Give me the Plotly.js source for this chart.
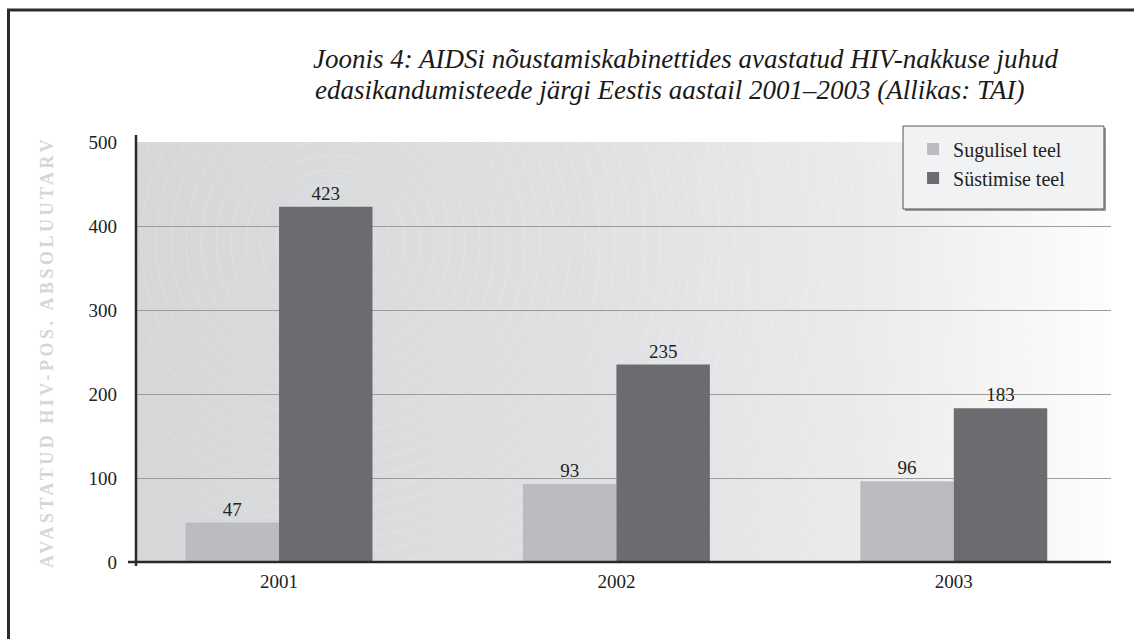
<!DOCTYPE html>
<html>
<head>
<meta charset="utf-8">
<script src="https://cdn.plot.ly/plotly-3.0.1.min.js"></script>
<style>html,body{margin:0;padding:0;background:#fff;}#chart{width:1134px;height:639px;}</style>
</head>
<body>
<div id="chart"></div>
<script>
// ---- data ----
const years = ["2001", "2002", "2003"];
const sugulisel = [47, 93, 96];     // Sugulisel teel
const systimise = [423, 235, 183];  // Süstimise teel
const yTicks = [0, 100, 200, 300, 400, 500];
const seriesNames = ["Sugulisel teel", "Süstimise teel"];
const titleLines = [
  "Joonis 4: AIDSi nõustamiskabinettides avastatud HIV-nakkuse juhud",
  "edasikandumisteede järgi Eestis aastail 2001–2003 (Allikas: TAI)"
];
const yTitle = "AVASTATUD HIV-POS. ABSOLUUTARV";

const SERIF = "Liberation Serif";

// background (radial rings + gradient) as an SVG data URI
function bgImage() {
  const W = 975, H = 420, cx = 197, cy = 100;
  let circles = "";
  for (let r = 12; r < 1000; r += 15) {
    circles += `<circle cx="${cx}" cy="${cy}" r="${r}" fill="none" stroke="#ffffff" stroke-opacity="0.22" stroke-width="0.8"/>`;
  }
  const svg = `<svg xmlns="http://www.w3.org/2000/svg" width="${W}" height="${H}" viewBox="0 0 ${W} ${H}">
<defs>
<linearGradient id="g" x1="0" y1="0" x2="1" y2="0">
<stop offset="0" stop-color="#d6d7d9"/>
<stop offset="0.45" stop-color="#dfe0e2"/>
<stop offset="0.75" stop-color="#ebebec"/>
<stop offset="1" stop-color="#fdfdfd"/>
</linearGradient>
</defs>
<rect width="${W}" height="${H}" fill="url(#g)"/>
${circles}
</svg>`;
  return "data:image/svg+xml;base64," + btoa(unescape(encodeURIComponent(svg)));
}

const traces = [
  {
    type: "bar", name: seriesNames[0], x: years, y: sugulisel,
    marker: {color: "#bbbcc0", line: {width: 0}},
    text: sugulisel.map(String), textposition: "outside",
    textfont: {family: SERIF, size: 19, color: "#222"},
    cliponaxis: false, hoverinfo: "x+y+name"
  },
  {
    type: "bar", name: seriesNames[1], x: years, y: systimise,
    marker: {color: "#6b6c70", line: {width: 0}},
    text: systimise.map(String), textposition: "outside",
    textfont: {family: SERIF, size: 19, color: "#222"},
    cliponaxis: false, hoverinfo: "x+y+name"
  }
];

const px = 1 / 975, py = 1 / 420;

const layout = {
  width: 1134, height: 639,
  margin: {l: 136, r: 23, t: 142, b: 77},
  paper_bgcolor: "#ffffff",
  plot_bgcolor: "rgba(0,0,0,0)",
  font: {family: SERIF, color: "#222"},
  showlegend: true,
  barmode: "group",
  bargap: 0.446,
  bargroupgap: 0,
  title: {
    text: "<i>" + titleLines[0] + "</i>",
    font: {family: SERIF, size: 27, color: "#1a1a1a"},
    x: 313 / 1134, xref: "container", xanchor: "left",
    y: 1 - 59 / 639, yref: "container", yanchor: "middle"
  },
  annotations: [{
    text: "<i>" + titleLines[1] + "</i>",
    font: {family: SERIF, size: 27, color: "#1a1a1a"},
    xref: "paper", yref: "paper",
    x: (313 - 136) * px, y: 1 + (142 - 90) * py,
    xanchor: "left", yanchor: "middle", showarrow: false
  }],
  xaxis: {
    type: "category",
    range: [-0.424, 2.466],
    showgrid: false, zeroline: false, showline: false,
    ticks: "", tickfont: {family: SERIF, size: 19, color: "#222"},
    ticklabelstandoff: 6,
    fixedrange: true
  },
  yaxis: {
    range: [0, 500],
    tickvals: yTicks,
    showgrid: true, gridcolor: "#9c9c9c", gridwidth: 1.3,
    zeroline: false, showline: false, ticks: "",
    tickfont: {family: SERIF, size: 19, color: "#222"},
    ticklabelstandoff: 18,
    title: {
      text: '<b><span style="letter-spacing:3.5px">' + yTitle + '</span></b>',
      font: {family: SERIF, size: 18, color: "#d6d6d6"},
      standoff: 30
    },
    fixedrange: true
  },
  legend: {
    x: 0.797, y: 1.03, xanchor: "left", yanchor: "top",
    bgcolor: "rgba(0,0,0,0)", borderwidth: 0,
    font: {family: SERIF, size: 20, color: "#222"},
    itemclick: false, itemdoubleclick: false
  },
  images: [{
    source: bgImage(), xref: "paper", yref: "paper",
    x: 0, y: 1, sizex: 1, sizey: 1, sizing: "stretch",
    xanchor: "left", yanchor: "top", layer: "below"
  }],
  shapes: [
    // outer frame (top and left edges)
    {type: "line", xref: "paper", yref: "paper",
     x0: -129 * px, x1: 1000 * px, y0: 1 + 132 * py, y1: 1 + 132 * py,
     line: {color: "#2b2b2b", width: 3}},
    {type: "line", xref: "paper", yref: "paper",
     x0: -127.5 * px, x1: -127.5 * px, y0: 1 + 132 * py, y1: -200 * py,
     line: {color: "#2b2b2b", width: 3}},
    // axis lines
    {type: "line", xref: "paper", yref: "paper",
     x0: 0, x1: 0, y0: -4 * py, y1: 1 + 7 * py,
     line: {color: "#2a2a2a", width: 2.5}},
    {type: "line", xref: "paper", yref: "paper",
     x0: -8 * px, x1: 1, y0: 0, y1: 0,
     line: {color: "#2a2a2a", width: 2.5}},
    // legend box shadow and box
    {type: "rect", xref: "paper", yref: "paper", layer: "above",
     x0: 0.7867 + 2 * px, x1: 0.9928 + 2 * px, y0: 0.8405 - 2 * py, y1: 1.038 - 2 * py,
     fillcolor: "#9a9a9a", line: {width: 0}},
    {type: "rect", xref: "paper", yref: "paper", layer: "above",
     x0: 0.7867, x1: 0.9928, y0: 0.8405, y1: 1.038,
     fillcolor: "#f1f2f3", line: {color: "#555555", width: 1}}
  ]
};

Plotly.newPlot("chart", traces, layout, {displayModeBar: false});
</script>
</body>
</html>
